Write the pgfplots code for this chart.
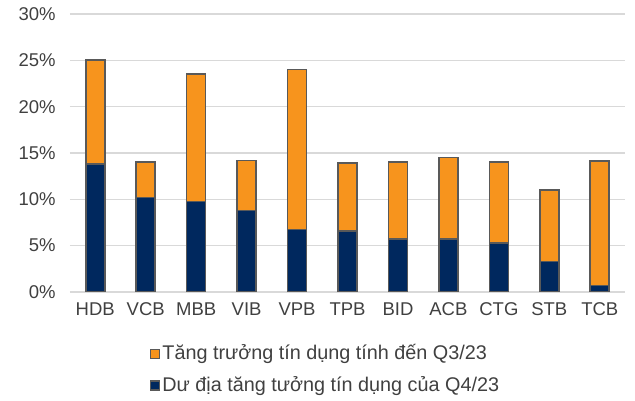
\documentclass[border=0pt]{standalone}
\usepackage{pgfplots}
\pgfplotsset{compat=1.18}
\usepackage{fontspec}
\setmainfont{Liberation Sans}
\definecolor{orangeb}{HTML}{F7941D}
\definecolor{navyb}{HTML}{00285E}
\definecolor{edgeb}{HTML}{595959}
\definecolor{txt}{HTML}{404040}
\definecolor{gridc}{HTML}{D9D9D9}
\begin{document}
\fontsize{18.5}{22}\selectfont
\begin{tikzpicture}[x=1pt,y=1pt]
\path[use as bounding box] (-70,-109) rectangle (565,292);
\begin{axis}[at={(0,0)}, anchor=south west,
 scale only axis, width=555pt, height=278pt,
 ybar stacked, bar width=19pt,
 xmin=-0.5, xmax=10.5, ymin=0, ymax=30,
 xtick={0,...,10}, xticklabels={HDB,VCB,MBB,VIB,VPB,TPB,BID,ACB,CTG,STB,TCB},
 ytick={0,5,...,30}, yticklabel={\pgfmathprintnumber{\tick}\%},
 axis line style={draw=none}, major tick length=0pt,
 ymajorgrids, grid style={gridc, line width=1.2pt},
 tick label style={text=txt, font=\fontsize{18.5}{22}\selectfont},
 yticklabel style={xshift=-8pt}, xticklabel style={yshift=-4pt},
 /pgf/number format/assume math mode=true,
 legend style={at={(0.144,-0.18)}, anchor=north west, draw=none, fill=none,
   font=\fontsize{19.8}{22}\selectfont, text=txt, row sep=10pt, inner sep=0pt},
 legend cell align=left, reverse legend,
 legend image code/.code={\draw[#1, line width=1.3pt] (0pt,-5pt) rectangle (9pt,4pt);},
]
\addplot[fill=navyb, draw=edgeb, line width=1.7pt] coordinates {
(0,13.8) (1,10.2) (2,9.75) (3,8.8) (4,6.75) (5,6.6) (6,5.7) (7,5.7) (8,5.3) (9,3.3) (10,0.7)};
\addplot[fill=orangeb, draw=edgeb, line width=1.7pt] coordinates {
(0,11.2) (1,3.8) (2,13.8) (3,5.4) (4,17.25) (5,7.3) (6,8.3) (7,8.8) (8,8.7) (9,7.7) (10,13.4)};
\legend{Dư địa tăng tưởng tín dụng của Q4/23, Tăng trưởng tín dụng tính đến Q3/23}
\end{axis}
\end{tikzpicture}
\end{document}
